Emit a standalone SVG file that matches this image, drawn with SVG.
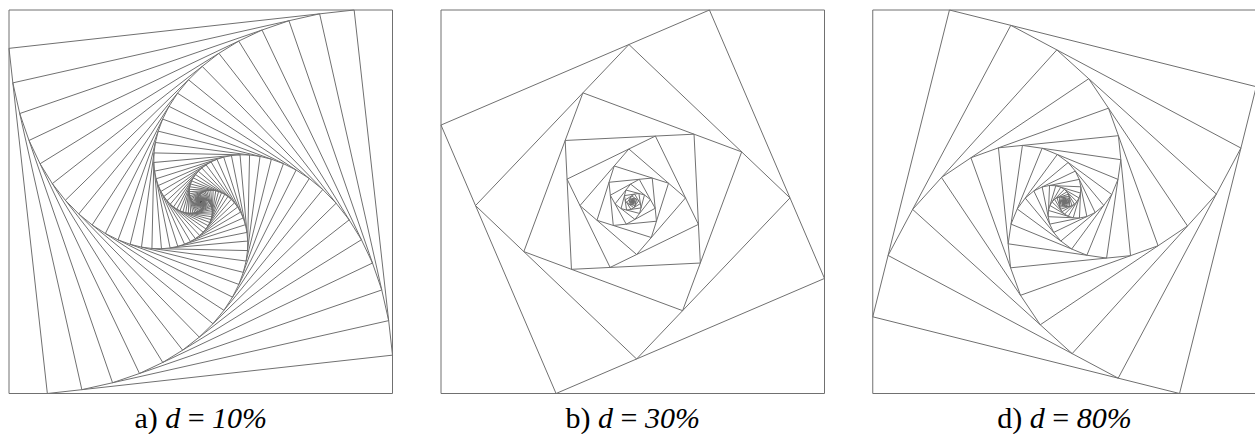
<svg xmlns="http://www.w3.org/2000/svg" xmlns:xlink="http://www.w3.org/1999/xlink" width="1255" height="434" viewBox="0 0 1255 434">
<style>
.ln{fill:none;stroke:#707070;stroke-width:1;vector-effect:non-scaling-stroke}
.lbl{font-family:"Liberation Serif","Times New Roman",serif;font-size:30px;fill:#000;text-anchor:middle}
.it{font-style:italic}
</style>
<defs>
<rect id="sq" class="ln" x="-191.75" y="-191.75" width="383.5" height="383.5" vector-effect="non-scaling-stroke"/>
<g id="a1"><use href="#sq"/><use href="#sq" transform="rotate(-6.3401917) scale(0.9055385)"/></g>
<g id="a2"><use href="#a1"/><use href="#a1" transform="rotate(-12.6803835) scale(0.82)"/></g>
<g id="a3"><use href="#a2"/><use href="#a2" transform="rotate(-25.360767) scale(0.6724)"/></g>
<g id="a4"><use href="#a3"/><use href="#a3" transform="rotate(-50.721534) scale(0.45212176)"/></g>
<g id="a5"><use href="#a4"/><use href="#a4" transform="rotate(-101.443067) scale(0.2044141)"/></g>
<g id="a6"><use href="#a5"/><use href="#a5" transform="rotate(-202.886135) scale(0.0417851)"/></g>
<g id="a7"><use href="#a6"/><use href="#a6" transform="rotate(-405.77227) scale(0.0017460)"/></g>
<g id="b1"><use href="#sq"/><use href="#sq" transform="rotate(-23.19859) scale(0.7615773)"/></g>
<g id="b2"><use href="#b1"/><use href="#b1" transform="rotate(-46.39718) scale(0.58)"/></g>
<g id="b3"><use href="#b2"/><use href="#b2" transform="rotate(-92.79436) scale(0.3364)"/></g>
<g id="b4"><use href="#b3"/><use href="#b3" transform="rotate(-185.58872) scale(0.11316496)"/></g>
<g id="b5"><use href="#b4"/><use href="#b4" transform="rotate(-371.17745) scale(0.0128063)"/></g>
<g id="d1"><use href="#sq"/><use href="#sq" transform="rotate(-75.96376) scale(0.8246211)"/></g>
<g id="d2"><use href="#d1"/><use href="#d1" transform="rotate(-151.92751) scale(0.68)"/></g>
<g id="d3"><use href="#d2"/><use href="#d2" transform="rotate(-303.85503) scale(0.4624)"/></g>
<g id="d4"><use href="#d3"/><use href="#d3" transform="rotate(-607.71006) scale(0.21381376)"/></g>
<g id="d5"><use href="#d4"/><use href="#d4" transform="rotate(-1215.42013) scale(0.0457163)"/></g>
</defs>
<rect width="1255" height="434" fill="#fff"/>
<g id="panel-a">
<use href="#a7" transform="translate(200.75,201.75)"/>
<text class="lbl" x="200.75" y="428">a) <tspan class="it">d</tspan> = <tspan class="it">10%</tspan></text>
</g>
<g id="panel-b">
<use href="#b5" transform="translate(632.75,201.75)"/>
<text class="lbl" x="632.75" y="428">b) <tspan class="it">d</tspan> = <tspan class="it">30%</tspan></text>
</g>
<g id="panel-d">
<use href="#d5" transform="translate(1064.5,201.75)"/>
<text class="lbl" x="1064.5" y="428">d) <tspan class="it">d</tspan> = <tspan class="it">80%</tspan></text>
</g>
</svg>
